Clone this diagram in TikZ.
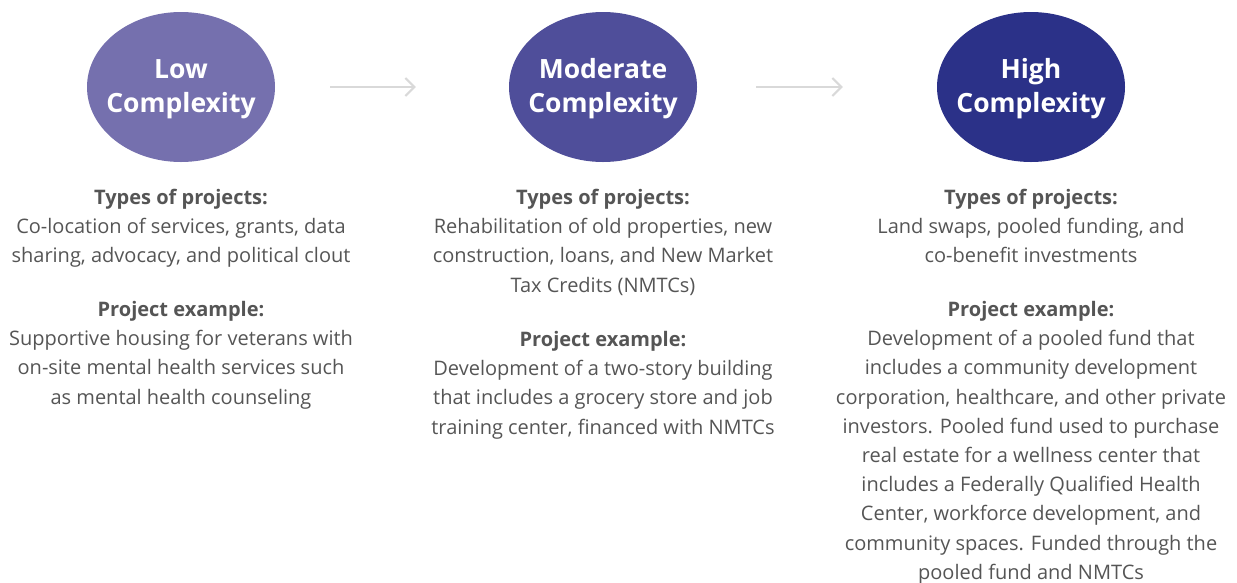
\documentclass[tikz,border=0pt]{standalone}
\usepackage{fontspec}
\setmainfont{Open Sans}
\usetikzlibrary{positioning, arrows.meta, shapes.geometric}

\definecolor{lowcol}{HTML}{7570AE}
\definecolor{modcol}{HTML}{4F4E9A}
\definecolor{highcol}{HTML}{2B3188}
\definecolor{txtcol}{HTML}{555555}
\definecolor{arrcol}{HTML}{D9D9D9}

\tikzset{
  level/.style={ellipse, minimum width=188pt, minimum height=150pt, inner sep=0pt},
  leveltext/.style={text=white, align=center, inner sep=0pt, yshift=-2pt,
    font=\fontsize{26.5}{34}\selectfont\bfseries},
  info/.style={align=center, text=txtcol, inner sep=0pt, anchor=north,
    font=\fontsize{20}{29.2}\selectfont},
  flow/.style={arrcol, line width=2pt, -{Straight Barb[length=9pt, width=18pt]}}
}

\begin{document}
\begin{tikzpicture}[x=1pt, y=-1pt]
  \useasboundingbox (0,0) rectangle (1237,582);

  \def\xLOW{181}
  \def\xMOD{603}
  \def\xHIGH{1031}

  % the three levels
  \node[level, fill=lowcol, label={[leveltext]center:Low\\Complexity}] (low) at (\xLOW,87) {};
  \node[level, fill=modcol, label={[leveltext]center:Moderate\\Complexity}] (mod) at (\xMOD,87) {};
  \node[level, fill=highcol, label={[leveltext]center:High\\Complexity}] (high) at (\xHIGH,87) {};

  \draw[flow] ([xshift=55pt]low.east) -- ([xshift=-93pt]mod.west);
  \draw[flow] ([xshift=59pt]mod.east) -- ([xshift=-94pt]high.west);

  % low
  \node[info] (lowtypes) at (\xLOW,189) {\textbf{Types of projects:}\\
    Co-location of services, grants, data\\
    sharing, advocacy, and political clout};
  \node[info] (lowex) at (\xLOW,301) {\textbf{Project example:}\\
    Supportive housing for veterans with\\
    on-site mental health services such\\
    as mental health counseling};

  % moderate
  \node[info] (modtypes) at (\xMOD,189) {\textbf{Types of projects:}\\
    Rehabilitation of old properties, new\\
    construction, loans, and New Market\\
    Tax Credits (NMTCs)};
  \node[info] (modex) at (\xMOD,331) {\textbf{Project example:}\\
    Development of a two-story building\\
    that includes a grocery store and job\\
    training center, financed with NMTCs};

  % high
  \node[info] (hightypes) at (\xHIGH,189) {\textbf{Types of projects:}\\
    Land swaps, pooled funding, and\\
    co-benefit investments};
  \node[info] (highex) at (\xHIGH,301) {\textbf{Project example:}\\
    Development of a pooled fund that\\
    includes a community development\\
    corporation, healthcare, and other private\\
    investors. Pooled fund used to purchase\\
    real estate for a wellness center that\\
    includes a Federally Qualified Health\\
    Center, workforce development, and\\
    community spaces. Funded through the\\
    pooled fund and NMTCs};
\end{tikzpicture}
\end{document}
